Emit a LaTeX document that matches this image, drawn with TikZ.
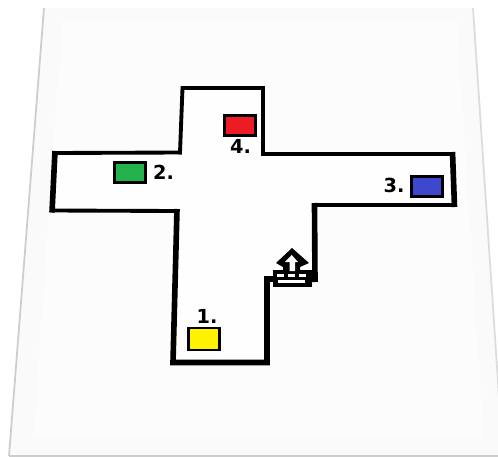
\documentclass[tikz,border=0pt]{standalone}
\usepackage{fontspec}
\setmainfont{DejaVu Sans}
\usetikzlibrary{positioning}
\definecolor{sheet}{RGB}{250,250,250}
\definecolor{sheetin}{RGB}{252,252,252}
\definecolor{sheetedge}{RGB}{205,205,205}
\definecolor{yellowbox}{RGB}{255,242,0}
\definecolor{greenbox}{RGB}{34,177,76}
\definecolor{bluebox}{RGB}{63,72,204}
\definecolor{redbox}{RGB}{237,28,36}
\tikzset{
    crate/.style={draw=black, line width=1.5pt, minimum width=0.62cm, minimum height=0.40cm, inner sep=0pt},
    tag/.style={font=\bfseries\fontsize{11}{11}\selectfont, inner sep=0pt},
    wall/.style={line width=2.2pt, line cap=rect},
    thickwall/.style={line width=3.2pt},
}

\begin{document}
\begin{tikzpicture}[x=0.02cm, y=-0.02cm]

    \useasboundingbox (0,0) rectangle (498,457);

    % Sheet
    \fill[white] (0,0) rectangle (498,457);
    \fill[sheet] (44,8) -- (473,8) -- (503,457) -- (9,457) -- cycle;
    \fill[sheetin] (62,20) -- (457,20) -- (484,438) -- (33,438) -- cycle;
    \draw[sheetedge, line width=1pt] (44,8) -- (9,456);
    \draw[sheetedge!70, line width=1pt] (473,8) -- (503,457);
    \draw[sheetedge, line width=1.2pt] (9,456.3) -- (498,456.3);

    % Floor
    \fill[white!60!sheetin] (182.5,88) -- (263,88) -- (263,154) -- (452.5,154) -- (454.5,205)
        -- (314,205) -- (315,280) -- (267,280) -- (267,362.5) -- (173,362.5) -- (177,211)
        -- (52,210.5) -- (55,153) -- (180,152.5) -- cycle;

    % Thin walls
    \draw[wall] (180,152.5) -- (182.5,88) -- (263,88) -- (263,154) -- (452.5,154);
    \draw[wall] (454.5,205) -- (314,205);
    \draw[wall] (55,153) -- (180,152.5);
    \draw[wall] (52,210.5) -- (177,211);

    % Thick walls
    \draw[thickwall] (452.5,152) -- (454.5,207);
    \draw[thickwall] (55,151) -- (52,212.5);
    \draw[thickwall] (314.5,203) -- (315,282);
    \draw[thickwall] (273,279) -- (267,279) -- (267,362.5) -- (173,362.5) -- (177,209);

    % Crates
    \node[crate, fill=yellowbox, minimum height=0.44cm] (crate1) at (204,339) {};
    \node[crate, fill=greenbox] (crate2) at (130,172.5) {};
    \node[crate, fill=bluebox] (crate3) at (427,186.5) {};
    \node[crate, fill=redbox] (crate4) at (240,125.5) {};

    \node[tag] (tag1) at (207,316) {1.};
    \node[tag] (tag2) at (163.5,172) {2.};
    \node[tag] (tag3) at (394,185) {3.};
    \node[tag] (tag4) at (240.5,146.5) {4.};

    % Entrance
    \fill[black] (273,270) rectangle (312,287);
    \foreach \x in {277,288,299} {
        \fill[white] (\x,273.5) rectangle (\x+7,276.5);
    }
    \fill[white] (278,280) rectangle (305,283);
    \fill[black] (292,248) -- (309,263) -- (300,267) -- (300,271) -- (283,271) -- (283,267)
        -- (276,263) -- cycle;
    \fill[white] (291.7,255) -- (298,262) -- (295,262) -- (295,271) -- (289.5,271) -- (289.5,262)
        -- (285,262) -- cycle;

\end{tikzpicture}
\end{document}
